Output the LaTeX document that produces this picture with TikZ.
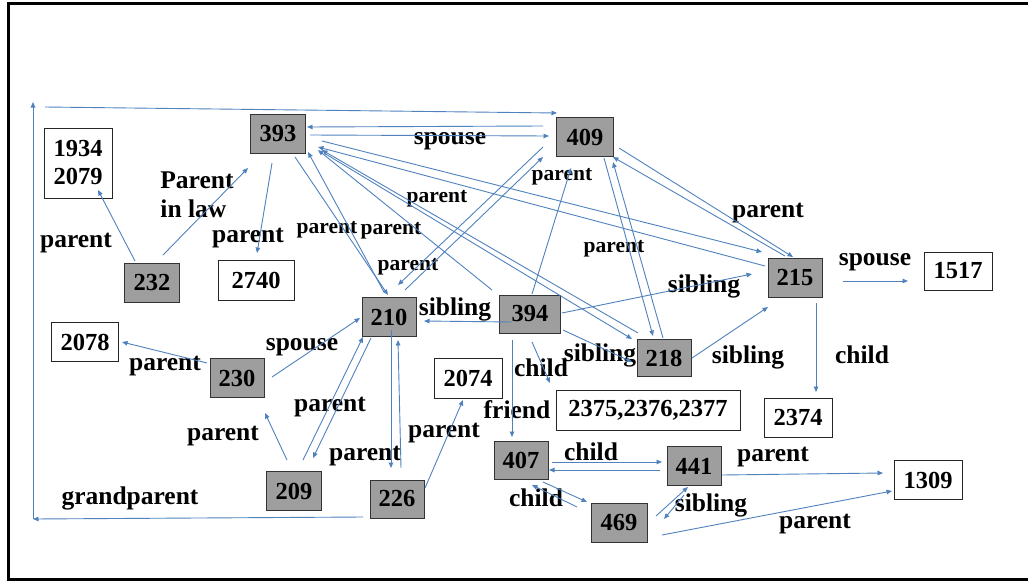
\documentclass[tikz,border=0pt]{standalone}
\usepackage{fontspec}
\setmainfont{Liberation Serif}
\usetikzlibrary{arrows.meta,calc}
\definecolor{lineblue}{RGB}{79,129,189}
\definecolor{boxgray}{RGB}{158,158,158}
\begin{document}
\begin{tikzpicture}[x=1pt,y=-1pt,
  font=\fontsize{25.5}{29}\selectfont\bfseries,
  gbox/.style={draw=black!80, fill=boxgray, line width=0.8pt, inner sep=0pt, minimum height=39pt, minimum width=55pt, font=\fontsize{24.5}{28}\selectfont\bfseries},
  wbox/.style={draw=black!85, fill=white, line width=0.8pt, inner sep=0pt, minimum height=39pt, minimum width=68pt, font=\fontsize{24.5}{28}\selectfont\bfseries},
  lbl/.style={inner sep=0pt},
  slbl/.style={inner sep=0pt, font=\fontsize{21.5}{25}\selectfont\bfseries},
  arr/.style={draw=lineblue, line width=0.9pt, -{Triangle[length=5.5pt,width=4.5pt]}},
]
\useasboundingbox (0,0) rectangle (1028,581);
\draw[line width=3pt] (8.5,3.5) rectangle (1029.5,579.5);

% boxes
\node[gbox] (n393) at (278,134) {393};
\node[gbox, minimum width=57pt] (n409) at (585,137) {409};
\node[wbox, minimum height=70pt, align=center] (n1934) at (78,163) {1934\\2079};
\node[gbox] (n232) at (152,283) {232};
\node[wbox, minimum width=76pt, minimum height=40pt] (n2740) at (256,280) {2740};
\node[gbox, minimum width=54pt] (n210) at (389,317) {210};
\node[gbox, minimum width=61pt, minimum height=38pt] (n394) at (530,314) {394};
\node[gbox, minimum width=54pt] (n215) at (795,278) {215};
\node[wbox, minimum height=38pt] (n1517) at (958,271) {1517};
\node[gbox, minimum width=54pt, minimum height=37pt] (n218) at (664,358) {218};
\node[wbox, minimum width=67pt] (n2078) at (85,342) {2078};
\node[gbox, minimum width=54pt] (n230) at (237,378) {230};
\node[gbox] (n209) at (294,491) {209};
\node[gbox, minimum width=54pt, minimum height=38pt] (n226) at (397,499) {226};
\node[wbox, minimum height=40pt] (n2074) at (468,378) {2074};
\node[wbox, minimum width=184pt, minimum height=40pt] (n2375) at (648,410) {2375,2376,2377};
\node[wbox] (n2374) at (798,418) {2374};
\node[gbox, minimum width=54pt, minimum height=38pt] (n407) at (521,460) {407};
\node[gbox, minimum width=54pt] (n441) at (694,466) {441};
\node[gbox, minimum width=56pt] (n469) at (619,523) {469};
\node[wbox] (n1309) at (928,480) {1309};

% free ends of the grandparent link
\coordinate (gpL) at (33,519);
\coordinate (gpT) at (33,102);
\coordinate (gpS) at (45,107);

% labels
\node[lbl] (l1) at (450,141) {spouse};
\node[lbl] (l2) at (76,243) {parent};
\node[lbl, align=left] (l3) at (197,195) {Parent\\in law};
\node[lbl] (l4) at (248,238) {parent};
\node[slbl] (l5) at (327,230) {parent};
\node[slbl] (l6) at (391,231) {parent};
\node[slbl] (l7) at (437,199) {parent};
\node[slbl] (l8) at (562,177) {parent};
\node[slbl] (l9) at (408,267) {parent};
\node[slbl] (l10) at (614,249) {parent};
\node[lbl] (l11) at (768,213) {parent};
\node[lbl] (l12) at (704,286) {sibling};
\node[lbl] (l13) at (455,309) {sibling};
\node[lbl] (l14) at (600,355) {sibling};
\node[lbl] (l15) at (748,357) {sibling};
\node[lbl] (l16) at (875,262) {spouse};
\node[lbl] (l17) at (862,355) {child};
\node[lbl] (l18) at (541,368) {child};
\node[lbl] (l19) at (517,410) {friend};
\node[lbl] (l20) at (591,452) {child};
\node[lbl] (l21) at (536,498) {child};
\node[lbl] (l22) at (711,505) {sibling};
\node[lbl] (l23) at (773,457) {parent};
\node[lbl] (l24) at (815,524) {parent};
\node[lbl] (l25) at (165,366) {parent};
\node[lbl] (l26) at (302,347) {spouse};
\node[lbl] (l27) at (223,436) {parent};
\node[lbl] (l28) at (330,407) {parent};
\node[lbl] (l29) at (365,456) {parent};
\node[lbl] (l30) at (444,433) {parent};
\node[lbl] (l31) at (130,498) {grandparent};

% connectors
\draw[arr] ($(n226)+(-34,18)$) -- (gpL);
\draw[arr] (gpL) -- (gpT);
\draw[arr] (gpS) -- ($(n409)+(-28,-24)$);
\draw[arr] ($(n409)+(-42,-11)$) -- ($(n393)+(29,-7)$);
\draw[arr] ($(n393)+(32,1)$) -- ($(n409)+(-36,-1)$);
\draw[arr] ($(n232)+(-17,-22)$) -- ($(n1934)+(20,27)$);
\draw[arr] ($(n232)+(11,-28)$) -- ($(n393)+(-30,34)$);
\draw[arr] ($(n393)+(-6,29)$) -- ($(n2740)+(1,-27)$);
\draw[arr] ($(n393)+(17,23)$) -- ($(n210)+(-1,-22)$);
\draw[arr] ($(n210)+(-5,-25)$) -- ($(n393)+(30,18)$);
\draw[arr] ($(n394)+(-38,-24)$) -- ($(n393)+(40,16)$);
\draw[arr] ($(n393)+(46,19)$) -- ($(n218)+(-32,-19)$);
\draw[arr] ($(n218)+(-26,-25)$) -- ($(n393)+(44,16)$);
\draw[arr] ($(n393)+(44,7)$) -- ($(n215)+(-33,-26)$);
\draw[arr] ($(n215)+(-30,-12)$) -- ($(n393)+(40,13)$);
\draw[arr] ($(n394)+(2,-20)$) -- ($(n409)+(-14,31)$);
\draw[arr] ($(n210)+(16,-27)$) -- ($(n409)+(-42,20)$);
\draw[arr] ($(n409)+(-42,10)$) -- ($(n210)+(9,-32)$);
\draw[arr] ($(n409)+(19,21)$) -- ($(n218)+(-11,-22)$);
\draw[arr] ($(n218)+(-1,-20)$) -- ($(n409)+(28,25)$);
\draw[arr] ($(n409)+(34,11)$) -- ($(n215)+(-2,-21)$);
\draw[arr] ($(n215)+(-10,-22)$) -- ($(n409)+(28,20)$);
\draw[arr] ($(n394)+(32,-1)$) -- ($(n215)+(-43,-4)$);
\draw[arr] ($(n394)+(-18,8)$) -- ($(n210)+(35,4)$);
\draw[arr] ($(n394)+(33,16)$) -- ($(n218)+(-32,4)$);
\draw[arr] ($(n218)+(28,0)$) -- ($(n215)+(-27,29)$);
\draw[arr] ($(n215)+(48,3)$) -- ($(n1517)+(-50,10)$);
\draw[arr] ($(n215)+(21,25)$) -- ($(n2374)+(18,-26)$);
\draw[arr] ($(n394)+(2,28)$) -- ($(n2375)+(-98,-27)$);
\draw[arr] ($(n394)+(-18,26)$) -- ($(n407)+(-9,-23)$);
\draw[arr] ($(n407)+(31,2)$) -- ($(n441)+(-32,-4)$);
\draw[arr] ($(n441)+(-34,4)$) -- ($(n407)+(28,10)$);
\draw[arr] ($(n407)+(22,22)$) -- ($(n469)+(-32,-21)$);
\draw[arr] ($(n469)+(-42,-16)$) -- ($(n407)+(11,25)$);
\draw[arr] ($(n469)+(37,-7)$) -- ($(n441)+(-6,21)$);
\draw[arr] ($(n441)+(-10,29)$) -- ($(n469)+(45,-4)$);
\draw[arr] ($(n441)+(28,9)$) -- ($(n1309)+(-45,-7)$);
\draw[arr] ($(n469)+(43,12)$) -- ($(n1309)+(-36,11)$);
\draw[arr] ($(n230)+(-30,-15)$) -- ($(n2078)+(37,0)$);
\draw[arr] ($(n230)+(35,-1)$) -- ($(n210)+(-29,1)$);
\draw[arr] ($(n209)+(-7,-31)$) -- ($(n230)+(28,35)$);
\draw[arr] ($(n209)+(9,-31)$) -- ($(n210)+(-26,20)$);
\draw[arr] ($(n210)+(-18,21)$) -- ($(n209)+(19,-33)$);
\draw[arr] ($(n210)+(2,13)$) -- ($(n226)+(-6,-31)$);
\draw[arr] ($(n226)+(4,-31)$) -- ($(n210)+(9,23)$);
\draw[arr] ($(n226)+(28,-11)$) -- ($(n2074)+(-5,22)$);
\end{tikzpicture}
\end{document}
